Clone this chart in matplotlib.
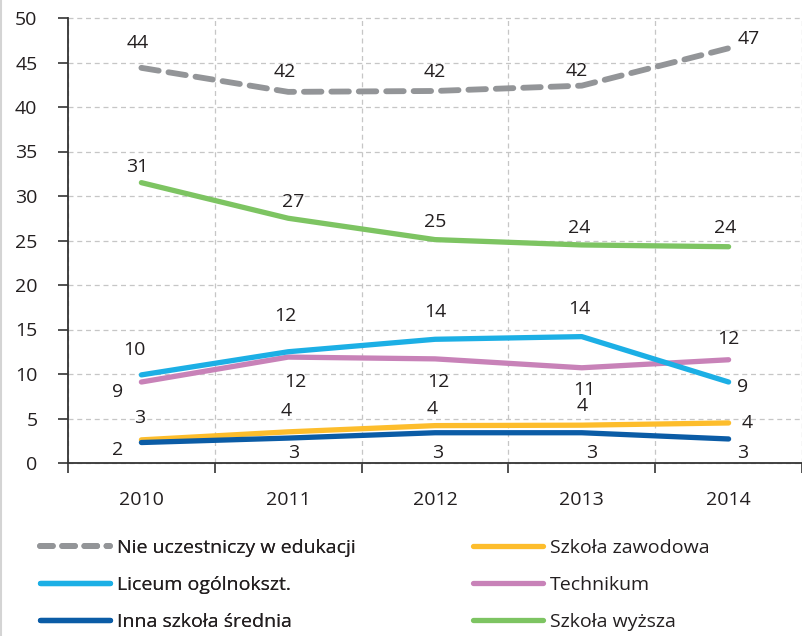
import matplotlib
matplotlib.use("Agg")
import matplotlib.pyplot as plt
from matplotlib.lines import Line2D

years = ["2010", "2011", "2012", "2013", "2014"]

nie_uczestniczy = [44.4, 41.7, 41.8, 42.4, 46.6]
liceum = [9.9, 12.5, 13.9, 14.2, 9.1]
inna = [2.3, 2.8, 3.4, 3.4, 2.7]
zawodowa = [2.6, 3.5, 4.2, 4.25, 4.5]
technikum = [9.1, 11.9, 11.7, 10.7, 11.6]
wyzsza = [31.5, 27.5, 25.1, 24.5, 24.3]

lab_nie = ["44", "42", "42", "42", "47"]
lab_liceum = ["10", "12", "14", "14", "9"]
lab_inna = ["2", "3", "3", "3", "3"]
lab_zawodowa = ["3", "4", "4", "4", "4"]
lab_technikum = ["9", "12", "12", "11", "12"]
lab_wyzsza = ["31", "27", "25", "24", "24"]

names = ["Nie uczestniczy w edukacji", "Liceum ogólnokszt.", "Inna szkoła średnia",
         "Szkoła zawodowa", "Technikum", "Szkoła wyższa"]

plt.rcParams['font.family'] = ['Open Sans', 'DejaVu Sans']
TXT = '#231f20'
FS = 14

W, H = 802, 636
fig = plt.figure(figsize=(W / 100, H / 100), dpi=100)
ax = fig.add_axes([68 / W, 1 - 463 / H, (W - 68) / W, (463 - 18) / H])

x = list(range(len(years)))

# label offsets in pixels (dx, dy up)
off_nie = [(-4, 25), (-3, 20), (0, 19), (-5, 15), (20, 9)]
off_wyz = [(-4, 16), (5, 16), (0, 18), (-3, 17), (-3, 19)]
off_lic = [(-7, 25), (-3, 36), (0, 27), (-2, 28), (14, -5)]
off_tec = [(-24, -10), (7, -25), (3, -23), (3, -22), (0, 21)]
off_zaw = [(-2, 22), (-2, 21), (-3, 17), (0, 19), (19, 0)]
off_inn = [(-24, -7), (5, -15), (3, -20), (10, -20), (14, -14)]

series = [
    (nie_uczestniczy, lab_nie, off_nie, '#939598', True),
    (liceum, lab_liceum, off_lic, '#1cafe5', False),
    (inna, lab_inna, off_inn, '#0b5ca6', False),
    (zawodowa, lab_zawodowa, off_zaw, '#fdbd2c', False),
    (technikum, lab_technikum, off_tec, '#c882b8', False),
    (wyzsza, lab_wyzsza, off_wyz, '#7dc462', False),
]

draw_order = [4, 1, 3, 2, 5, 0]
for i in draw_order:
    vals, labs, offs, col, dashed = series[i]
    if dashed:
        ln, = ax.plot(x, vals, color=col, lw=4.2, dash_capstyle='round',
                      solid_capstyle='round', zorder=3)
        ln.set_dashes((3.0, 1.7))
    else:
        ln, = ax.plot(x, vals, color=col, lw=3.8, solid_capstyle='round',
                      solid_joinstyle='round', zorder=3)
    for xi, v, t, (dx, dy) in zip(x, vals, labs, offs):
        ax.annotate(t, (xi, v), xytext=(dx * 0.72, dy * 0.72), textcoords='offset points',
                    ha='center', va='center', fontsize=FS, color=TXT, zorder=4)

ax.set_xlim(-0.5, -0.5 + (W - 68) / 148)
ax.set_ylim(0, 50)
ax.set_yticks(range(0, 51, 5))
ax.set_xticks(x)
ax.set_xticklabels(years)
ax.set_xticks([-0.5, 0.5, 1.5, 2.5, 3.5, 4.5], minor=True)

ax.tick_params(axis='x', which='major', length=0, pad=20, labelsize=FS, labelcolor=TXT)
ax.tick_params(axis='x', which='minor', length=7, width=1.2, direction='out', color='#333333')
ax.tick_params(axis='y', which='major', length=7, width=1.2, direction='out', pad=15,
               labelsize=FS, labelcolor=TXT, color='#333333')

for s in ['top', 'right']:
    ax.spines[s].set_visible(False)
for s in ['left', 'bottom']:
    ax.spines[s].set_color('#333333')
    ax.spines[s].set_linewidth(1.3)

ax.grid(True, axis='y', which='major', color='#c6c6c6', lw=0.9, ls=(0, (4, 3)), zorder=0)
ax.grid(True, axis='x', which='minor', color='#c6c6c6', lw=0.9, ls=(0, (4, 3)), zorder=0)
ax.set_axisbelow(True)
for gl in ax.get_ygridlines():
    gl.set_clip_on(False)

# legend
def mk(i):
    vals, labs, offs, col, dashed = series[i]
    if dashed:
        h = Line2D([0], [0], color=col, lw=4.2, dash_capstyle='round')
        h.set_dashes((2.2, 1.6))
    else:
        h = Line2D([0], [0], color=col, lw=3.8, solid_capstyle='round')
    return h

leg_kw = dict(loc='center left', frameon=False, fontsize=FS, handlelength=3.6,
              handletextpad=0.35, labelspacing=0.98, borderpad=0, borderaxespad=0,
              labelcolor=TXT)
leg1 = fig.legend([mk(i) for i in [0, 1, 2]], [names[i] for i in [0, 1, 2]],
                  bbox_to_anchor=(40 / W, 1 - 585 / H), **leg_kw)
leg2 = fig.legend([mk(i) for i in [3, 4, 5]], [names[i] for i in [3, 4, 5]],
                  bbox_to_anchor=(473 / W, 1 - 585 / H), **leg_kw)
fig.add_artist(leg1)

fig.add_artist(Line2D([1 / W, 1 / W], [0, 1], transform=fig.transFigure,
                      color='#d4d4d4', lw=1.5))

fig.savefig('out.png', dpi=100)
